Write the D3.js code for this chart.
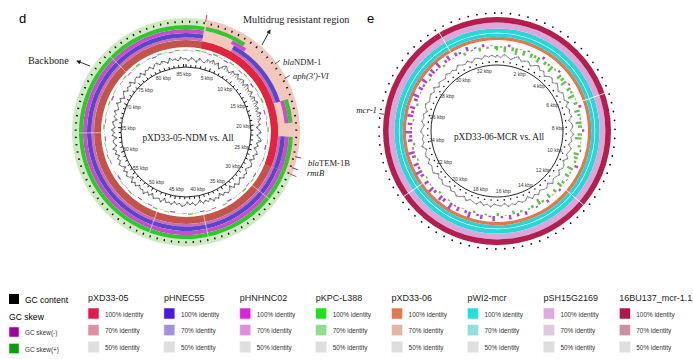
<!DOCTYPE html>
<html><head><meta charset="utf-8">
<script src="https://cdn.jsdelivr.net/npm/d3@7"></script>
<style>body{margin:0;background:#fff}svg{display:block}</style>
</head><body>
<svg id="c" width="693" height="359"></svg>
<script>
// ---------------- data ----------------
const lenNDM = 85.5;                 // kbp, pXD33-05-NDM
const lenMCR = 33.1;                 // kbp, pXD33-06-MCR
const labelsNDM = [5,10,15,20,25,30,35,40,45,50,55,60,65,70,75,80,85];
const labelsMCR = [2,4,6,8,10,12,14,16,18,20,22,24,26,28,30,32];

// identity segments (kbp) of the rings, panel d
const segNDM_pXD3305 = [[0,85.5]];
const segNDM_pXD3305hi = [[2.4,26.6]];
const segNDM_pHNEC55 = [[26.6,85.5],[0,2.4],[6.9,17.1],[22,26.6]];
const segNDM_pHNHNC02 = [[26.6,85.5],[0,2.4],[6.4,8.5],[17.1,20.2],[22,26.6]];
const segNDM_pKPC = [[26.6,85.5],[0,2.4],[2.6,8.0],[17.1,20.2],[22,26.6]];
const mdrRegion = [[2.4,26.6]];
const backboneRegion = [[26.6,85.5],[0,2.4]];
const gapsNDM = [30.6,39.9,47.5,64,74.8];
// panel e
const segMCR = [[0,33.1]];
const gapsMCR = [6.5,12,21.6,30.3];

// GC content (deviation, every 0.5 kbp) panel d
const gcNDM = [
0.2,-0.3,0.4,0.1,-0.4,0.5,0.0,-0.2,0.6,0.3,
0.8,0.2,0.7,-0.3,0.5,0.9,0.4,0.1,0.8,0.5,
1.0,0.3,0.7,0.9,0.2,1.0,0.6,0.4,0.9,0.1,
0.8,0.5,1.0,0.3,0.7,0.1,0.9,0.4,0.6,0.0,
0.4,-0.4,0.2,0.5,-0.3,0.3,0.6,-0.2,0.2,-0.5,
0.1,0.4,-0.3,0.2,-0.6,0.1,0.3,-0.2,-0.5,0.2,
-0.1,0.3,-0.4,0.0,0.4,-0.3,0.2,-0.6,0.1,0.3,
-0.2,0.2,-0.5,0.3,-0.1,0.4,-0.4,0.1,-0.3,0.2,
-0.6,0.0,0.3,-0.3,0.1,-0.5,0.2,0.4,-0.2,0.1,
-0.4,0.3,-0.1,0.2,-0.6,0.4,-0.2,0.0,0.3,-0.5,
0.2,-0.3,0.5,-0.1,0.1,-0.4,0.3,-0.2,0.4,-0.6,
0.0,0.3,-0.3,0.2,-0.5,0.1,0.4,-0.2,0.2,-0.4,
0.3,-0.1,0.5,-0.4,0.1,0.2,-0.6,0.3,-0.2,0.4,
-0.3,0.1,0.3,-0.5,0.2,-0.1,0.4,-0.3,0.0,0.5,
-0.2,0.3,-0.5,0.1,0.4,-0.3,0.2,-0.1,0.5,-0.4,
0.1,0.3,-0.2,0.4,-0.5,0.2,0.0,0.4,-0.3,0.3,
0.5,-0.1,0.4,0.2,-0.3,0.6,0.1,0.3,-0.2,0.5,
0.1];
// GC skew (every 1 kbp) panel d
const skewNDM = [
0.3,-0.2,0.5,0.4,-0.3,0.6,0.2,-0.4,0.5,0.1,
-0.3,0.4,0.2,-0.5,0.3,-0.2,0.6,0.1,-0.4,0.2,
-0.3,0.5,-0.1,0.3,-0.5,0.2,0.4,-0.2,0.1,-0.4,
0.3,-0.3,0.5,-0.1,0.2,-0.5,0.4,0.0,-0.3,0.3,
-0.4,0.2,0.5,-0.2,0.1,-0.5,0.3,-0.1,0.4,-0.3,
0.2,-0.4,0.1,0.5,-0.2,0.3,-0.5,0.2,0.0,-0.3,
0.4,-0.2,0.3,-0.4,0.1,0.5,-0.3,0.2,-0.1,0.4,
-0.5,0.3,0.1,-0.2,0.4,-0.3,0.2,0.6,-0.1,0.3,
-0.4,0.5,0.2,-0.3,0.4,0.1];
// GC content (every 0.25 kbp) panel e
const gcMCR = [
0.4,-0.3,0.6,0.1,-0.5,0.3,0.7,-0.2,0.2,0.5,
-0.4,0.3,0.8,-0.1,0.4,-0.6,0.2,0.5,-0.3,0.6,
0.1,-0.5,0.4,0.2,-0.2,0.7,-0.4,0.3,0.0,0.5,
-0.6,0.2,0.4,-0.3,0.6,-0.1,0.3,-0.5,0.5,0.1,
-0.3,0.4,-0.6,0.2,0.3,-0.4,0.5,0.0,-0.2,0.6,
-0.5,0.3,0.1,-0.4,0.4,-0.2,0.5,-0.6,0.2,0.3,
-0.3,0.4,-0.1,0.6,-0.5,0.2,0.0,-0.4,0.5,-0.2,
0.3,-0.6,0.4,0.1,-0.3,0.5,-0.4,0.2,0.6,-0.1,
0.3,-0.5,0.2,0.4,-0.3,0.1,-0.6,0.5,0.2,-0.2,
0.4,-0.4,0.3,0.0,-0.5,0.6,-0.2,0.2,-0.3,0.5,
0.1,-0.4,0.4,-0.1,0.3,-0.6,0.2,0.5,-0.3,0.1,
0.4,-0.2,0.6,-0.5,0.3,0.0,-0.3,0.5,-0.1,0.2,
-0.4,0.6,0.1,-0.2,0.4,-0.5,0.3,0.2,-0.3,0.5,
0.0,0.4,-0.2];
// GC skew (every 0.25 kbp) panel e
const skewMCR = [
0.6,0.2,0.8,-0.3,0.5,0.9,0.1,0.7,-0.2,0.6,
0.4,0.8,-0.4,0.5,0.3,0.9,0.2,-0.3,0.7,0.5,
0.8,-0.2,0.6,0.3,0.9,0.1,0.5,-0.4,0.7,0.4,
0.2,0.8,0.5,-0.3,0.6,0.9,0.1,0.4,-0.2,0.7,
0.5,0.3,-0.5,0.8,0.2,0.6,-0.1,0.4,0.7,-0.3,
0.5,0.1,0.6,-0.4,0.3,0.8,-0.2,0.4,0.2,-0.5,
0.3,-0.4,0.5,-0.6,0.1,-0.3,0.4,-0.7,-0.2,0.2,
-0.6,-0.3,0.3,-0.8,-0.4,0.1,-0.6,-0.2,-0.9,0.2,
-0.5,-0.7,0.3,-0.4,-0.8,-0.1,-0.6,0.2,-0.5,-0.9,
-0.3,-0.7,0.2,-0.5,-0.8,-0.2,0.3,-0.6,-0.4,-0.9,
-0.2,-0.6,0.2,-0.8,-0.4,-0.7,0.3,-0.5,-0.9,-0.1,
-0.6,-0.3,-0.8,0.2,-0.5,-0.7,-0.2,-0.9,0.3,-0.4,
-0.7,0.1,-0.5,-0.3,0.4,-0.6,0.2,-0.2,0.5,-0.4,
0.3,-0.1,0.4];

// gene annotations
const genesNDM = [
  {pos:12.5, parts:[["bla",true],["NDM-1",false]]},
  {pos:14.6, parts:[["aph(3')-VI",true]]},
  {pos:24.4, parts:[["bla",true],["TEM-1B",false]]},
  {pos:25.8, parts:[["rmtB",true]]}
];
const genesMCR = [{pos:25.6, parts:[["mcr-1",true]]}];

// legend
const legendNames = ["pXD33-05","pHNEC55","pHNHNC02","pKPC-L388","pXD33-06","pWI2-mcr","pSH15G2169","16BU137_mcr-1.1"];
const col100 = ["#e5194b","#4a18e0","#e020e0","#20e020","#e07a4c","#20e0e0","#e0a8e0","#b0184a"];
const col70  = ["#e08ea2","#a490e0","#e08ee0","#8ee08e","#e0b8a2","#90e0e0","#e0c8e0","#d08ea2"];
const col50  = "#dedede";
const identityLevels = ["100% identity","70% identity","50% identity"];
const gcItems = [["GC skew(-)","#a0009c"],["GC skew(+)","#08a008"]];

// ---------------- drawing ----------------
const svg = d3.select("#c");
const SANS = "Liberation Sans, Arial, sans-serif";
const SERIF = "Liberation Serif, Times New Roman, serif";
const arcGen = d3.arc();

function pt(a, r){ return [r*Math.sin(a), -r*Math.cos(a)]; }

function ring(g, ang, segs, r0, r1, color){
  g.append("g").selectAll("path").data(segs).join("path")
    .attr("d", d => arcGen({innerRadius:r0, outerRadius:r1, startAngle:ang(d[0]), endAngle:ang(d[1])}))
    .attr("fill", color);
}
function barPlot(g, ang, data, step, r0, amp, dir, colorFn, frac){
  g.append("g").selectAll("path").data(data.map((v,i)=>({p:i*step, v}))).join("path")
    .attr("d", d => {
      const r = r0 + dir*d.v*amp;
      return arcGen({innerRadius:Math.min(r0,r), outerRadius:Math.max(r0,r)+0.01,
        startAngle:ang(d.p-step*frac*0.5), endAngle:ang(d.p+step*frac*0.5)});
    })
    .attr("fill", d=>colorFn(d.v));
}
function linePlot(g, ang, data, step, r0, amp, color, sw){
  const pts = data.map((v,i)=>({a:ang(i*step), r:r0+v*amp}));
  g.append("g").selectAll("line").data(pts).join("line")
    .attr("x1", d=>pt(d.a,r0)[0]).attr("y1", d=>pt(d.a,r0)[1])
    .attr("x2", d=>pt(d.a,d.r)[0]).attr("y2", d=>pt(d.a,d.r)[1])
    .attr("stroke", color).attr("stroke-width",0.6).attr("opacity",0.8);
  g.append("path").datum(pts)
    .attr("d", d3.lineRadial().angle(d=>d.a).radius(d=>d.r).curve(d3.curveLinearClosed))
    .attr("fill","none").attr("stroke",color).attr("stroke-width",sw).attr("opacity",0.85);
}
function gaps(g, ang, list, r0, r1, op){
  g.append("g").selectAll("line").data(list).join("line")
    .attr("x1", d=>pt(ang(d),r0)[0]).attr("y1", d=>pt(ang(d),r0)[1])
    .attr("x2", d=>pt(ang(d),r1)[0]).attr("y2", d=>pt(ang(d),r1)[1])
    .attr("stroke","#fff").attr("stroke-width",1).attr("opacity",op);
}
function kbpLabels(g, ang, list, r){
  g.append("g").selectAll("text").data(list).join("text")
    .attr("x", d=>pt(ang(d),r)[0]).attr("y", d=>pt(ang(d),r)[1]+1.7)
    .attr("text-anchor","middle").attr("font-family",SANS).attr("font-size",5).attr("fill","#333")
    .text(d=>d+" kbp");
}
const skewColor = v => v>=0 ? "#66c050" : "#b048c0";

// ---- panel d ----
{
  const g = svg.append("g").attr("transform","translate(186,132)");
  const ang = d3.scaleLinear().domain([0,lenNDM]).range([0,2*Math.PI]);
  ring(g, ang, backboneRegion, 104, 114, "#cfeac2");
  ring(g, ang, mdrRegion, 92, 114, "#f1c8bb");
  ring(g, ang, segNDM_pXD3305, 85, 92, "#c4544a");
  ring(g, ang, segNDM_pXD3305hi, 85, 92, "#e2243e");
  ring(g, ang, segNDM_pHNEC55, 92, 94.6, "#c86cb4");
  ring(g, ang, segNDM_pHNEC55, 94.6, 99, "#5a46cc");
  ring(g, ang, segNDM_pHNHNC02, 99, 103, "#c84ec8");
  ring(g, ang, segNDM_pKPC, 103, 107, "#2ec82e");
  gaps(g, ang, gapsNDM, 85, 107, 0.55);
  const dots = d3.range(0.45, lenNDM, 0.9);
  g.append("g").selectAll("line").data(dots).join("line")
    .attr("x1", d=>pt(ang(d),109.3)[0]).attr("y1", d=>pt(ang(d),109.3)[1])
    .attr("x2", d=>pt(ang(d),111.3)[0]).attr("y2", d=>pt(ang(d),111.3)[1])
    .attr("stroke","#111").attr("stroke-width",1.3);
  g.append("g").selectAll("line").data([2.4,26.6]).join("line")
    .attr("x1", d=>pt(ang(d),112)[0]).attr("y1", d=>pt(ang(d),112)[1])
    .attr("x2", d=>pt(ang(d),119)[0]).attr("y2", d=>pt(ang(d),119)[1])
    .attr("stroke","#ee2020").attr("stroke-width",0.9);
  barPlot(g, ang, skewNDM, 1, 81.5, 2.6, 1, skewColor, 0.85);
  linePlot(g, ang, gcNDM, 0.5, 72.5, 5.5, "#222", 0.7);
  g.append("circle").attr("r",65).attr("fill","none").attr("stroke","#111").attr("stroke-width",0.9);
  const ticks = d3.range(0, lenNDM, 1);
  g.append("g").selectAll("line").data(ticks).join("line")
    .attr("x1", d=>pt(ang(d),65)[0]).attr("y1", d=>pt(ang(d),65)[1])
    .attr("x2", d=>pt(ang(d),d%5===0?68:67.3)[0]).attr("y2", d=>pt(ang(d),d%5===0?68:67.3)[1])
    .attr("stroke","#111").attr("stroke-width",1);
  kbpLabels(g, ang, labelsNDM, 58);
  g.append("text").attr("x",2).attr("y",9).attr("text-anchor","middle")
    .attr("font-family",SERIF).attr("font-size",9.3).attr("fill","#222").text("pXD33-05-NDM vs. All");
  genesNDM.forEach(gn=>{
    const a = ang(gn.pos);
    const p0 = pt(a,112), p1 = pt(a,118);
    g.append("line").attr("x1",p0[0]).attr("y1",p0[1]).attr("x2",p1[0]).attr("y2",p1[1])
      .attr("stroke","#111").attr("stroke-width",0.7);
  });
}
const geneLabelPos = [[283,65],[293,79],[308,166],[307,176]];
genesNDM.forEach((gn,i)=>{
  const t = svg.append("text").attr("x",geneLabelPos[i][0]).attr("y",geneLabelPos[i][1])
    .attr("font-family",SERIF).attr("font-size",8.6).attr("fill","#222");
  gn.parts.forEach(p=>t.append("tspan").attr("font-style",p[1]?"italic":"normal").text(p[0]));
});

// ---- panel e ----
{
  const g = svg.append("g").attr("transform","translate(497,131)");
  const ang = d3.scaleLinear().domain([0,lenMCR]).range([0,2*Math.PI]);
  ring(g, ang, segMCR, 91, 94.3, "#e07a4e");
  ring(g, ang, segMCR, 94.3, 97.6, "#2cd2d2");
  ring(g, ang, segMCR, 98.2, 102.6, "#28d8d8");
  ring(g, ang, segMCR, 102.6, 108.4, "#dba6da");
  ring(g, ang, segMCR, 108.4, 114, "#b41e4c");
  gaps(g, ang, gapsMCR, 91, 114, 0.9);
  const dots = d3.range(0.2, lenMCR, 0.4);
  g.append("g").selectAll("circle").data(dots).join("circle")
    .attr("cx", d=>pt(ang(d),118)[0]).attr("cy", d=>pt(ang(d),118)[1]).attr("r",0.9).attr("fill","#111");
  barPlot(g, ang, skewMCR, 0.25, 85, 7.5, -1, skewColor, 0.6);
  linePlot(g, ang, gcMCR, 0.25, 74.5, 4, "#555", 0.8);
  g.append("circle").attr("r",66).attr("fill","none").attr("stroke","#111").attr("stroke-width",0.9);
  const ticks = d3.range(0, lenMCR, 0.5);
  g.append("g").selectAll("circle").data(ticks).join("circle")
    .attr("cx", d=>pt(ang(d),69.3)[0]).attr("cy", d=>pt(ang(d),69.3)[1]).attr("r",0.8).attr("fill","#111");
  kbpLabels(g, ang, labelsMCR, 61);
  g.append("text").attr("x",2).attr("y",9).attr("text-anchor","middle")
    .attr("font-family",SERIF).attr("font-size",9.3).attr("fill","#222").text("pXD33-06-MCR vs. All");
  genesMCR.forEach(gn=>{
    const a = ang(gn.pos);
    const p0 = pt(a,114), p1 = pt(a,119);
    g.append("line").attr("x1",p0[0]).attr("y1",p0[1]).attr("x2",p1[0]).attr("y2",p1[1])
      .attr("stroke","#111").attr("stroke-width",0.7);
  });
}
genesMCR.forEach(gn=>{
  const t = svg.append("text").attr("x",377).attr("y",113).attr("text-anchor","end")
    .attr("font-family",SERIF).attr("font-size",8.8).attr("fill","#222");
  gn.parts.forEach(p=>t.append("tspan").attr("font-style",p[1]?"italic":"normal").text(p[0]));
});

// panel letters & region annotations
svg.append("text").attr("x",19).attr("y",23).attr("font-family",SANS).attr("font-size",13).text("d");
svg.append("text").attr("x",367).attr("y",23).attr("font-family",SANS).attr("font-size",13).text("e");
svg.append("text").attr("x",243).attr("y",23).attr("font-family",SERIF).attr("font-size",10.2).attr("fill","#222").text("Multidrug resistant region");
svg.append("text").attr("x",28).attr("y",64).attr("font-family",SERIF).attr("font-size",10.2).attr("fill","#222").text("Backbone");
const defs = svg.append("defs");
defs.append("marker").attr("id","ah").attr("viewBox","0 0 10 10").attr("refX",8).attr("refY",5)
  .attr("markerWidth",5).attr("markerHeight",5).attr("orient","auto")
  .append("path").attr("d","M0,0L10,5L0,10z").attr("fill","#222");
svg.append("line").attr("x1",262).attr("y1",45).attr("x2",270).attr("y2",30)
  .attr("stroke","#222").attr("stroke-width",0.9).attr("marker-end","url(#ah)");
svg.append("line").attr("x1",90).attr("y1",66).attr("x2",77).attr("y2",61)
  .attr("stroke","#222").attr("stroke-width",0.9).attr("marker-end","url(#ah)");

// ---- legend ----
const lg = svg.append("g");
lg.append("rect").attr("x",9).attr("y",294).attr("width",10).attr("height",10).attr("fill","#000");
lg.append("text").attr("x",25).attr("y",303).attr("font-family",SANS).attr("font-size",8.5).text("GC content");
lg.append("text").attr("x",9).attr("y",320).attr("font-family",SANS).attr("font-size",8.6).text("GC skew");
gcItems.forEach((it,i)=>{
  lg.append("rect").attr("x",9).attr("y",327+i*16.5).attr("width",10).attr("height",10)
    .attr("fill",it[1]).attr("stroke","#e8d8e8").attr("stroke-width",0.6);
  lg.append("text").attr("x",25).attr("y",335+i*16.5).attr("font-family",SANS).attr("font-size",6.4).attr("fill","#333").text(it[0]);
});
legendNames.forEach((n,i)=>{
  const x = 88 + i*75.9;
  lg.append("text").attr("x",x).attr("y",301).attr("font-family",SANS).attr("font-size",9).attr("fill","#222").text(n);
  const cols = [col100[i], col70[i], col50];
  identityLevels.forEach((lv,j)=>{
    lg.append("rect").attr("x",x).attr("y",308+j*16.7).attr("width",11).attr("height",11)
      .attr("fill",cols[j]).attr("stroke","#f0f0f0").attr("stroke-width",0.6);
    lg.append("text").attr("x",x+17).attr("y",316.5+j*16.7).attr("font-family",SANS).attr("font-size",6.4).attr("fill","#333").text(lv);
  });
});
</script>
</body></html>
